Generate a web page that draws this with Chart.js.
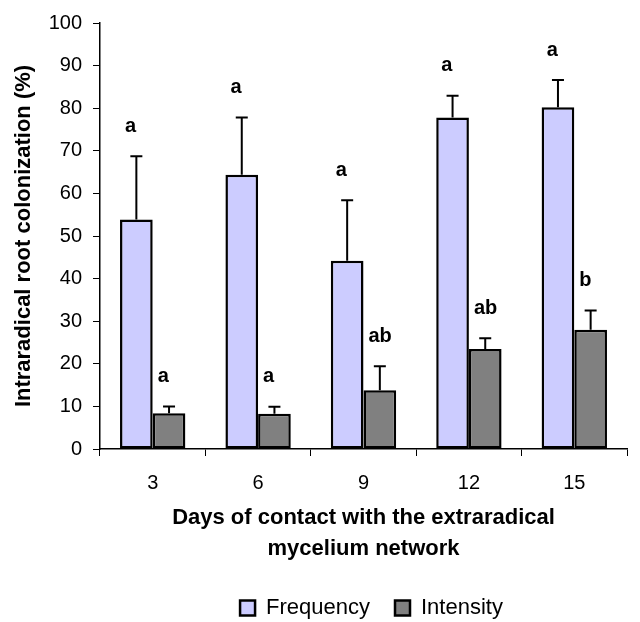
<!DOCTYPE html>
<html><head><meta charset="utf-8">
<script src="https://cdn.jsdelivr.net/npm/chart.js@4"></script>
<style>html,body{margin:0;padding:0;background:#fff}#wrap{width:640px;height:622px}</style>
</head><body><div id="wrap"><canvas id="c" width="640" height="622"></canvas></div>
<script>
const days = ['3', '6', '9', '12', '15'];
const frequency = [53.9, 64.4, 44.2, 77.8, 80.2];
const frequencyErr = [14.8, 13.4, 14.2, 5.1, 6.4];
const intensity = [8.4, 8.3, 13.8, 23.5, 28.0];
const intensityErr = [1.6, 1.6, 5.6, 2.5, 4.5];
const frequencyLetters = ['a', 'a', 'a', 'a', 'a'];
const intensityLetters = ['a', 'a', 'ab', 'ab', 'b'];
const yTitle = 'Intraradical root colonization (%)';
const xTitle = ['Days of contact with the extraradical', 'mycelium network'];

const FAM = '"Liberation Sans", Arial, sans-serif';

const annot = {
  id: 'annot',
  afterDatasetsDraw(chart) {
    const ctx = chart.ctx, ys = chart.scales.y;
    const errs = [frequencyErr, intensityErr];
    const letters = [frequencyLetters, intensityLetters];
    chart.data.datasets.forEach((ds, di) => {
      chart.getDatasetMeta(di).data.forEach((bar, i) => {
        const top = ys.getPixelForValue(ds.data[i] + errs[di][i]);
        ctx.save();
        ctx.strokeStyle = '#000'; ctx.lineWidth = 2;
        ctx.beginPath();
        ctx.moveTo(bar.x, bar.y); ctx.lineTo(bar.x, top);
        ctx.moveTo(bar.x - 6, top); ctx.lineTo(bar.x + 6, top);
        ctx.stroke();
        ctx.font = 'bold 20px ' + FAM;
        ctx.fillStyle = '#000'; ctx.textAlign = 'left'; ctx.textBaseline = 'middle';
        ctx.fillText(letters[di][i], bar.x - bar.width / 2 + 5, top - 30);
        ctx.restore();
      });
    });
  }
};

const legendPlace = {
  id: 'legendPlace',
  afterLayout(chart) {
    const l = chart.legend; const dx = 58, dy = 7;
    l.left += dx; l.right += dx; l.top += dy; l.bottom += dy;
  }
};

new Chart(document.getElementById('c'), {
  type: 'bar',
  data: {
    labels: days,
    datasets: [
      { label: 'Frequency', data: frequency, backgroundColor: '#ccccff', borderColor: '#000', borderWidth: 2.5, borderSkipped: false, barPercentage: 1, categoryPercentage: 0.62 },
      { label: 'Intensity', data: intensity, backgroundColor: '#808080', borderColor: '#000', borderWidth: 2.5, borderSkipped: false, barPercentage: 1, categoryPercentage: 0.62 }
    ]
  },
  options: {
    responsive: false, animation: false,
    layout: { padding: { top: 21, right: 13, left: 0, bottom: 0 } },
    plugins: {
      legend: { position: 'bottom', labels: { boxWidth: 15, boxHeight: 15, padding: 25, color: '#000', font: { family: FAM, size: 22 } } },
      tooltip: { enabled: false }
    },
    scales: {
      x: {
        grid: { display: true, drawOnChartArea: false, drawTicks: true, tickLength: 7, color: '#000', offset: true },
        border: { display: true, color: '#000', width: 1.5 },
        ticks: { color: '#000', font: { family: FAM, size: 20 }, padding: 15 },
        title: { display: true, text: xTitle, color: '#000', font: { family: FAM, size: 22, weight: 'bold', lineHeight: 1.43 }, padding: { top: 0, bottom: 0 } },
        afterFit(s) { s.height = 116; }
      },
      y: {
        min: 0, max: 100,
        ticks: { stepSize: 10, color: '#000', font: { family: FAM, size: 20 }, padding: 11 },
        grid: { drawOnChartArea: false, drawTicks: true, tickLength: 7, color: '#000' },
        border: { color: '#000', width: 1.5 },
        title: { display: true, text: yTitle, color: '#000', font: { family: FAM, size: 22, weight: 'bold' }, padding: { top: 11, bottom: 0 } },
        afterFit(s) { s.width = 100; }
      }
    }
  },
  plugins: [annot, legendPlace]
});
</script></body></html>
